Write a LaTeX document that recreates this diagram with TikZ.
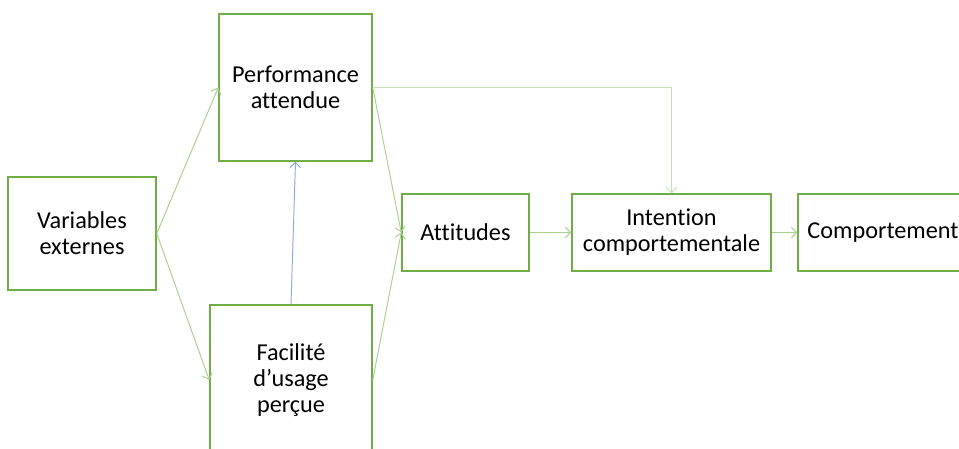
\documentclass[tikz,border=0pt]{standalone}
\usepackage{fontspec}
\setmainfont[Ligatures=NoCommon]{Carlito}
\usepackage{xcolor}
\usetikzlibrary{arrows.meta, positioning}
\definecolor{tamgreen}{RGB}{112, 173, 71}
\definecolor{tamlight}{RGB}{169, 209, 142}
\definecolor{tampale}{RGB}{197, 224, 180}
\definecolor{tamblue}{RGB}{143, 170, 220}

\begin{document}
\begin{tikzpicture}[
    x=0.02cm, y=-0.02cm,
    box/.style={
        rectangle,
        draw=tamgreen,
        fill=white,
        line width=0.85pt,
        align=center,
        inner sep=0pt,
        font=\fontsize{13.8}{14.8}\selectfont
    },
    arrow/.style={
        -{Straight Barb[length=3pt, width=6pt]},
        line width=0.55pt,
        tamlight
    }
]

% Frame
\useasboundingbox (0,0) rectangle (959,449);
\clip (0,0) rectangle (959,449);

% Boxes
\node[box, minimum width=148*0.02cm, minimum height=113*0.02cm] (vars) at (82,233.5) {Variables\\externes};
\node[box, minimum width=153*0.02cm, minimum height=147*0.02cm] (perf) at (295.5,87.5) {Performance\\attendue};
\node[box, minimum width=162*0.02cm, minimum height=150*0.02cm] (facil) at (291,380) {Facilité\\d’usage\\perçue};
\node[box, minimum width=127*0.02cm, minimum height=77*0.02cm] (attit) at (465.5,232.5) {Attitudes};
\node[box, minimum width=199*0.02cm, minimum height=77*0.02cm] (inten) at (671.5,232.5) {Intention\\comportementale};
\node[box, minimum width=170*0.02cm, minimum height=77*0.02cm] (comp) at (883,232.5) {Comportement};

% Connections
\draw[arrow] (vars.east) -- (perf.west);
\draw[arrow] (vars.east) -- (facil.west);
\draw[arrow, tamblue] (facil.north) -- (perf.south);
\draw[arrow] (perf.east) -- (attit.west);
\draw[arrow] (facil.east) -- (attit.west);
\draw[arrow, tampale] (perf.east) -- (inten.north |- perf.east) -- (inten.north);
\draw[arrow] (attit.east) -- (inten.west);
\draw[arrow] (inten.east) -- (comp.west);

\end{tikzpicture}
\end{document}
